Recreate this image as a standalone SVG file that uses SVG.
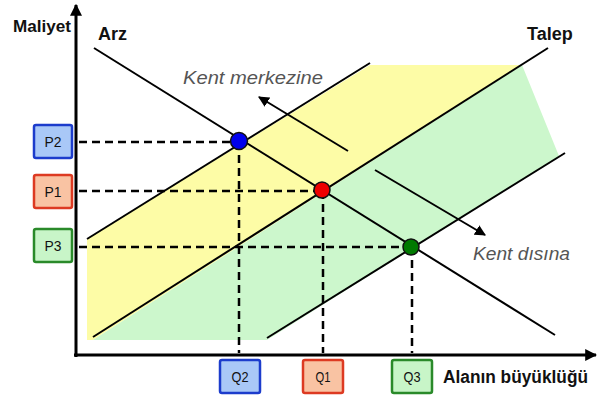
<svg xmlns="http://www.w3.org/2000/svg" width="600" height="397" viewBox="0 0 600 397">
<defs>
<marker id="ah" viewBox="0 0 10 10" refX="9" refY="5" markerWidth="5.5" markerHeight="5.5" orient="auto" markerUnits="strokeWidth"><path d="M0,0 L10,5 L0,10 Z" fill="#000"/></marker>
<marker id="axh" viewBox="0 0 10 10" refX="9" refY="5" markerWidth="4" markerHeight="4" orient="auto" markerUnits="strokeWidth"><path d="M0,0 L10,5 L0,10 Z" fill="#000"/></marker>
<style>
.ln{stroke:#000;stroke-width:2;fill:none}
.ax{stroke:#000;stroke-width:3;fill:none}
.dash{stroke:#000;stroke-width:2.5;stroke-dasharray:8 5;fill:none}
.lbl{font-family:"Liberation Sans",Arial,sans-serif;font-weight:bold;fill:#111}
.box{font-family:"Liberation Sans",Arial,sans-serif;font-size:15px;fill:#111;text-anchor:middle}
.it{font-family:"Liberation Sans",Arial,sans-serif;font-style:italic;font-size:18px;fill:#555}
</style>
</defs>
<rect width="600" height="397" fill="#fff"/>
<g id="regions">
<polygon points="87,239 370,65 522,65 93,340 87,340" fill="#fdfca6"/>
<polygon points="522,65 559,156 267,340 93,340" fill="#ccf7cc"/>
</g>
<g id="connectors">
<line class="ax" x1="76" y1="357" x2="76" y2="5" marker-end="url(#axh)"/>
<line class="ax" x1="74" y1="355" x2="596" y2="355" marker-end="url(#axh)"/>
<line class="ln" x1="87" y1="239" x2="370" y2="63"/>
<line class="ln" x1="93" y1="337" x2="548" y2="48"/>
<line class="ln" x1="267" y1="338" x2="565" y2="153"/>
<line class="ln" x1="94" y1="48" x2="555" y2="335"/>
<line class="ln" x1="348" y1="151" x2="259" y2="97" marker-end="url(#ah)"/>
<line class="ln" x1="375" y1="170" x2="485" y2="235" marker-end="url(#ah)"/>
<line class="dash" x1="79" y1="142" x2="239" y2="142"/>
<line class="dash" x1="79" y1="191" x2="322" y2="191"/>
<line class="dash" x1="79" y1="247" x2="411" y2="247"/>
<line class="dash" x1="239" y1="142" x2="239" y2="353"/>
<line class="dash" x1="323" y1="191" x2="323" y2="353"/>
<line class="dash" x1="412" y1="247" x2="412" y2="353"/>
</g>
<g id="labels">
<text class="lbl" x="13" y="32" font-size="17" textLength="58" lengthAdjust="spacingAndGlyphs">Maliyet</text>
<text class="lbl" x="98" y="40" font-size="18">Arz</text>
<text class="lbl" x="527" y="40" font-size="18">Talep</text>
<text class="lbl" x="443" y="383" font-size="18" textLength="145" lengthAdjust="spacingAndGlyphs">Alanın büyüklüğü</text>
<text class="it" x="183" y="84" textLength="140" lengthAdjust="spacingAndGlyphs">Kent merkezine</text>
<text class="it" x="473" y="260" textLength="97" lengthAdjust="spacingAndGlyphs">Kent dısına</text>
</g>
<g id="p2"><rect x="34" y="125" width="38" height="33" rx="2" fill="#a9c8f7" stroke="#1c3ccc" stroke-width="2.5"/><text class="box" x="53" y="147" textLength="17" lengthAdjust="spacingAndGlyphs">P2</text></g>
<g id="p1"><rect x="34" y="175" width="38" height="33" rx="2" fill="#f9c3a3" stroke="#dd3a22" stroke-width="2.5"/><text class="box" x="53" y="197" textLength="17" lengthAdjust="spacingAndGlyphs">P1</text></g>
<g id="p3"><rect x="34" y="229" width="38" height="33" rx="2" fill="#c8f5c8" stroke="#2a8a2a" stroke-width="2.5"/><text class="box" x="53" y="251" textLength="17" lengthAdjust="spacingAndGlyphs">P3</text></g>
<g id="q2"><rect x="220" y="360" width="40" height="33" rx="2" fill="#a9c8f7" stroke="#1c3ccc" stroke-width="2.5"/><text class="box" x="240" y="382" font-size="14" textLength="17" lengthAdjust="spacingAndGlyphs">Q2</text></g>
<g id="q1"><rect x="303" y="360" width="40" height="33" rx="2" fill="#f9c3a3" stroke="#dd3a22" stroke-width="2.5"/><text class="box" x="323" y="382" font-size="14" textLength="15" lengthAdjust="spacingAndGlyphs">Q1</text></g>
<g id="q3"><rect x="392" y="360" width="40" height="33" rx="2" fill="#c8f5c8" stroke="#2a8a2a" stroke-width="2.5"/><text class="box" x="412" y="382" font-size="14" textLength="17" lengthAdjust="spacingAndGlyphs">Q3</text></g>
<g id="pt-blue"><circle cx="239" cy="141" r="8.5" fill="#0000ee" stroke="#111" stroke-width="1.5"/></g>
<g id="pt-red"><circle cx="322" cy="190" r="8" fill="#ee0000" stroke="#111" stroke-width="1.5"/></g>
<g id="pt-green"><circle cx="411" cy="247" r="8" fill="#007a00" stroke="#111" stroke-width="1.5"/></g>
</svg>
